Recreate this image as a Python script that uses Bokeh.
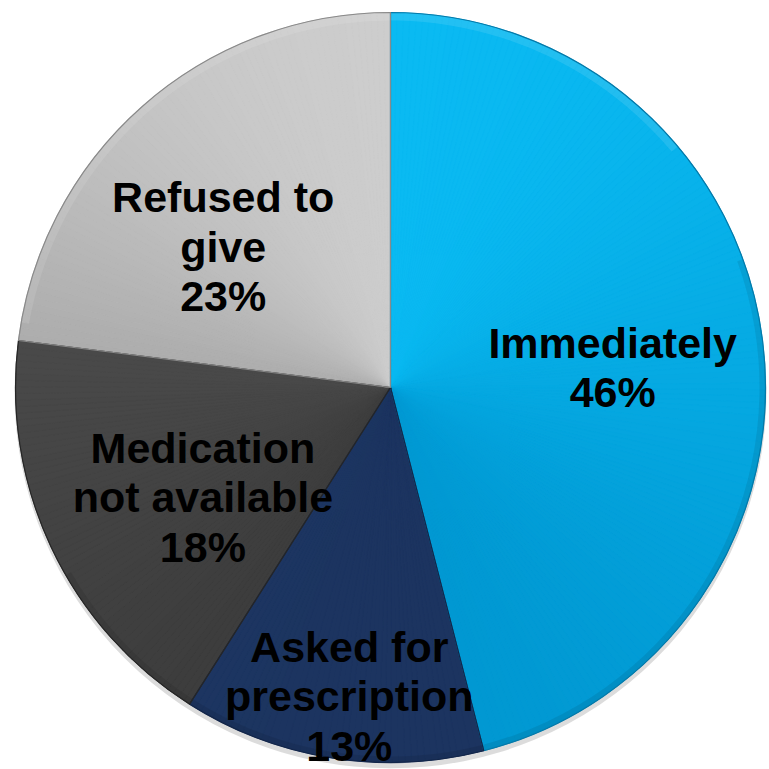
import numpy as np
from bokeh.plotting import figure
from bokeh.models import Range1d, ColumnDataSource
from bokeh.core.properties import value
from bokeh.embed import file_html
from bokeh.resources import INLINE

# ---- data ----
categories = ["Immediately", "Asked for prescription", "Medication not available", "Refused to give"]
shares = [46, 13, 18, 23]
label_lines = [["Immediately"], ["Asked for", "prescription"], ["Medication", "not available"], ["Refused to", "give"]]

# ---- style ----
top_colors = ["#0BBEF6", "#20396A", "#4A4A4A", "#D6D6D6"]
bottom_colors = ["#0094CE", "#1B335D", "#3A3A3A", "#A8A8A8"]
edge_colors = ["#0579A8", "#13264A", "#262626", "#8A8A8A"]
label_radius = [0.60, 0.79, 0.56, 0.61]
label_angle_shift = [-1.9, -1.0, -1.5, -5.6]

W = H = 769
CX, CY, R = 390.0, -387.0, 375.0
FONT_PX = 43
LINE_H = 49.5
CAP_H = 31.0

p = figure(width=W, height=H, output_backend="svg", toolbar_location=None,
           x_range=Range1d(0, W), y_range=Range1d(-H, 0),
           min_border=0, border_fill_color="white", background_fill_color="white")
p.axis.visible = False
p.grid.visible = False
p.outline_line_color = None


def hex2rgb(h):
    return np.array([int(h[i:i + 2], 16) for i in (1, 3, 5)], dtype=float)


def rgb2hex(c):
    c = np.clip(np.round(c), 0, 255).astype(int)
    return "#%02x%02x%02x" % tuple(c)


# soft shadow beneath the pie
p.circle(x=[CX], y=[CY - 5], radius=R + 1, fill_color="#9a9a9a", fill_alpha=0.35, line_color=None)

total = float(sum(shares))
cum = np.concatenate([[0.0], np.cumsum(shares)]) / total * 360.0  # clockwise from 12 o'clock
starts_cw = cum[:-1]
ends_cw = cum[1:]

# main wedges (Bokeh angles: anticlockwise from +x)
src = ColumnDataSource(dict(
    cat=categories,
    start=np.radians(90.0 - ends_cw),
    end=np.radians(90.0 - starts_cw),
    fill=[rgb2hex((hex2rgb(a) + hex2rgb(b)) / 2) for a, b in zip(top_colors, bottom_colors)],
))
p.wedge(x=CX, y=CY, radius=R, start_angle="start", end_angle="end", fill_color="fill",
        line_color=None, source=src)

# vertical gradient shading per slice
for i in range(len(shares)):
    a0, a1 = starts_cw[i], ends_cw[i]
    angs = np.linspace(a0, a1, 200)
    ys = np.concatenate([[0.0], R * np.cos(np.radians(angs))])  # relative to center, y up
    ytop, ybot = ys.max(), ys.min()
    n = max(int((a1 - a0) / 1.0), 4)
    edges = np.linspace(a0, a1, n + 1)
    mids = (edges[:-1] + edges[1:]) / 2
    ym = 0.8 * R * np.cos(np.radians(mids))
    t = np.clip((ytop - ym) / (ytop - ybot), 0, 1)
    cols = [rgb2hex(hex2rgb(top_colors[i]) * (1 - tt) + hex2rgb(bottom_colors[i]) * tt) for tt in t]
    p.wedge(x=CX, y=CY, radius=R,
            start_angle=np.radians(90.0 - edges[1:]), end_angle=np.radians(90.0 - edges[:-1]),
            fill_color=cols, line_color=cols, line_width=0.6)

# bevel: faint light rim on upper part, faint darker rim on lower part
p.annular_wedge(x=CX, y=CY, inner_radius=R - 8, outer_radius=R,
                start_angle=np.radians(40), end_angle=np.radians(170),
                fill_color="white", fill_alpha=0.10, line_color=None)
p.annular_wedge(x=CX, y=CY, inner_radius=R - 6, outer_radius=R,
                start_angle=np.radians(-150), end_angle=np.radians(20),
                fill_color="black", fill_alpha=0.08, line_color=None)

# outlines
p.wedge(x=CX, y=CY, radius=R, start_angle=np.radians(90.0 - ends_cw), end_angle=np.radians(90.0 - starts_cw),
        fill_color=None, line_color=edge_colors, line_width=1.2)

# labels
xs, ys, txt = [], [], []
for i, lines in enumerate(label_lines):
    all_lines = list(lines) + [f"{shares[i]}%"]
    mid = (starts_cw[i] + ends_cw[i]) / 2 + label_angle_shift[i]
    rr = label_radius[i] * R
    lx = CX + rr * np.sin(np.radians(mid))
    ly = CY + rr * np.cos(np.radians(mid))
    n = len(all_lines)
    first_base = ly + (n - 1) * LINE_H / 2 - CAP_H / 2
    for k, s in enumerate(all_lines):
        xs.append(lx)
        ys.append(first_base - k * LINE_H)
        txt.append(s)

p.text(x=xs, y=ys, text=txt, text_font=value("Liberation Sans"), text_font_style="bold",
       text_font_size=f"{FONT_PX}px", text_align="center", text_baseline="alphabetic",
       text_color="black")

open("out.html", "w").write(file_html(p, INLINE))
